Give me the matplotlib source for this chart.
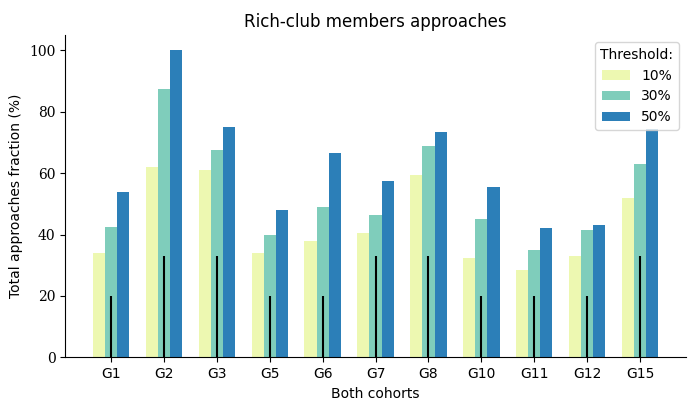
import numpy as np
import matplotlib.pyplot as plt

groups = ["G1", "G2", "G3", "G5", "G6", "G7", "G8", "G10", "G11", "G12", "G15"]
t10 = [34, 62, 61, 34, 38, 40.5, 59.5, 32.5, 28.5, 33, 52]
t30 = [42.5, 87.5, 67.5, 40, 49, 46.5, 69, 45, 35, 41.5, 63]
t50 = [54, 100, 75, 48, 66.5, 57.5, 73.5, 55.5, 42, 43, 74.5]
marks = [20, 33, 33, 20, 20, 33, 33, 20, 20, 20, 33]

colors = ["#edf8b1", "#7fcdbb", "#2c7fb8"]

fig, ax = plt.subplots(figsize=(7, 4.13), dpi=100)
x = np.arange(len(groups))
w = 0.23
ax.bar(x - w, t10, w, color=colors[0], label="10%")
ax.bar(x, t30, w, color=colors[1], label="30%")
ax.bar(x + w, t50, w, color=colors[2], label="50%")
ax.vlines(x, 0, marks, color="black", lw=1.5)

ax.set_xticks(x)
ax.set_xticklabels(groups)
ax.set_xlim(-0.87, 10.87)
ax.set_ylim(0, 105)
ax.set_yticks(range(0, 101, 20))
for lab in ax.get_yticklabels():
    lab.set_family("DejaVu Serif")
ax.spines["top"].set_visible(False)
ax.spines["right"].set_visible(False)
ax.set_xlabel("Both cohorts")
ax.set_ylabel("Total approaches fraction (%)")
ax.set_title("Rich-club members approaches")
ax.legend(title="Threshold:", loc="upper right")

fig.subplots_adjust(left=0.093, right=0.98, top=0.915, bottom=0.135)
fig.savefig("out.png")
